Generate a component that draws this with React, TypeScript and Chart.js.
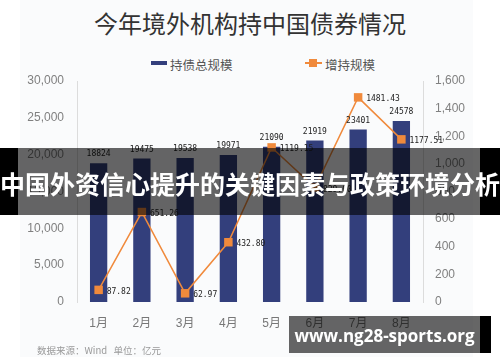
import React, { useEffect, useRef } from 'react';
import { Chart, registerables } from 'chart.js';

Chart.register(...registerables);

const chartTitle = '今年境外机构持中国债券情况';
const months = ['1月', '2月', '3月', '4月', '5月', '6月', '7月', '8月'];
const totalHoldings = [18824, 19475, 19538, 19971, 21090, 21919, 23401, 24578];
const increaseHoldings = [87.82, 651.26, 62.97, 432.8, 1119.15, 829.0, 1481.43, 1177.51];
const seriesNames = ['持债总规模', '增持规模'];
const sourceNote = '数据来源：Wind\u00a0\u00a0\u00a0单位：亿元';
const bannerText = '中国外资信心提升的关键因素与政策环境分析';
const watermarkText = 'www.ng28-sports.org';

const BAR_COLOR = '#333f7c';
const LINE_COLOR = '#f08a3c';
const FONT = '"Liberation Sans", Arial, "Noto Sans CJK SC", sans-serif';

const labelPlugin = {
  id: 'valueLabels',
  afterDatasetsDraw(chart: any) {
    const ctx = chart.ctx;
    ctx.save();
    ctx.font = '8px "DejaVu Sans Mono", monospace';
    ctx.fillStyle = '#222';
    const barMeta = chart.getDatasetMeta(1);
    barMeta.data.forEach((el: any, i: number) => {
      ctx.textAlign = 'center';
      ctx.textBaseline = 'middle';
      ctx.fillText(String(totalHoldings[i]), el.x, el.y - 9);
    });
    const lineMeta = chart.getDatasetMeta(0);
    lineMeta.data.forEach((el: any, i: number) => {
      ctx.textAlign = 'left';
      ctx.textBaseline = 'middle';
      ctx.fillText(increaseHoldings[i].toFixed(2), el.x + 8, el.y + 2);
    });
    ctx.restore();
  },
};

export default function App() {
  const canvasRef = useRef<HTMLCanvasElement | null>(null);

  useEffect(() => {
    document.body.style.margin = '0';
    const canvas = canvasRef.current;
    if (!canvas) return;
    const chart = new Chart(canvas, {
      type: 'bar',
      data: {
        labels: months,
        datasets: [
          {
            type: 'line',
            label: seriesNames[1],
            data: increaseHoldings,
            yAxisID: 'y1',
            borderColor: LINE_COLOR,
            backgroundColor: LINE_COLOR,
            borderWidth: 1.5,
            pointStyle: 'rect',
            pointRadius: 6,
            pointBorderWidth: 0,
            pointBackgroundColor: LINE_COLOR,
            tension: 0,
            order: 0,
          } as any,
          {
            type: 'bar',
            label: seriesNames[0],
            data: totalHoldings,
            yAxisID: 'y',
            backgroundColor: BAR_COLOR,
            barPercentage: 0.4,
            categoryPercentage: 1,
            order: 1,
          } as any,
        ],
      },
      options: {
        responsive: false,
        animation: false,
        devicePixelRatio: 1,
        layout: { padding: { top: 81, bottom: 30, left: 0, right: 0 } },
        plugins: {
          legend: { display: false },
          title: { display: false },
          tooltip: { enabled: false },
        },
        scales: {
          x: {
            grid: { display: false, drawTicks: false },
            border: { display: false },
            ticks: { color: '#777', font: { family: FONT, size: 12 }, padding: 14 },
            afterFit: (s: any) => { s.height = 30; },
          },
          y: {
            position: 'left',
            min: 0,
            max: 30000,
            grid: { display: false, drawTicks: false },
            border: { display: true, color: '#dcdcdc', width: 1 },
            ticks: { stepSize: 5000, color: '#808080', font: { family: FONT, size: 12 }, padding: 13 },
            afterFit: (s: any) => { s.width = 77; },
          },
          y1: {
            position: 'right',
            min: 0,
            max: 1600,
            grid: { display: false, drawTicks: false },
            border: { display: true, color: '#dcdcdc', width: 1 },
            ticks: { stepSize: 200, color: '#808080', font: { family: FONT, size: 12 }, padding: 12 },
            afterFit: (s: any) => { s.width = 77; },
          },
        },
      } as any,
      plugins: [labelPlugin],
    });
    return () => chart.destroy();
  }, []);

  return (
    <div style={{ position: 'fixed', left: 0, top: 0, width: 500, height: 362, background: '#fff', overflow: 'hidden' }}>
      <div style={{ position: 'absolute', left: 20, top: 0, width: 453, height: 357, background: '#fafbfc' }} />
      <div
        style={{
          position: 'absolute', left: 0, top: 8, width: 500, textAlign: 'center',
          fontFamily: '"Noto Sans CJK SC", sans-serif', fontSize: 24, lineHeight: '29px', color: '#333',
        }}
      >
        {chartTitle}
      </div>
      <div style={{ position: 'absolute', left: 151, top: 61, width: 16, height: 4, background: BAR_COLOR }} />
      <div
        style={{
          position: 'absolute', left: 170, top: 56, fontFamily: '"Noto Sans CJK SC", sans-serif',
          fontSize: 12.5, lineHeight: '18px', color: '#555',
        }}
      >
        {seriesNames[0]}
      </div>
      <div style={{ position: 'absolute', left: 305, top: 62, width: 17, height: 2, background: LINE_COLOR }} />
      <div style={{ position: 'absolute', left: 309, top: 59, width: 8, height: 8, background: LINE_COLOR }} />
      <div
        style={{
          position: 'absolute', left: 325, top: 56, fontFamily: '"Noto Sans CJK SC", sans-serif',
          fontSize: 12.5, lineHeight: '18px', color: '#555',
        }}
      >
        {seriesNames[1]}
      </div>
      <canvas ref={canvasRef} width={500} height={362} style={{ position: 'absolute', left: 0, top: 0, width: 500, height: 362 }} />
      <div
        style={{
          position: 'absolute', left: 37, top: 343, fontFamily: '"Noto Sans CJK SC", sans-serif',
          fontSize: 9.5, lineHeight: '14px', color: '#999', whiteSpace: 'nowrap',
        }}
      >
        {sourceNote}
      </div>
      <div style={{ position: 'absolute', left: 0, top: 148, width: 18, height: 67, background: '#000' }} />
      <div style={{ position: 'absolute', left: 18, top: 148, width: 462, height: 67, background: 'rgba(0,0,0,0.6)' }} />
      <div style={{ position: 'absolute', left: 480, top: 148, width: 20, height: 67, background: '#000' }} />
      <div
        style={{
          position: 'absolute', left: 0, top: 166, width: 500, textAlign: 'center', whiteSpace: 'nowrap',
          fontFamily: '"Noto Sans CJK SC", sans-serif', fontWeight: 700, fontSize: 25, lineHeight: '34px', color: '#fff',
        }}
      >
        {bannerText}
      </div>
      <div style={{ position: 'absolute', left: 289, top: 316, width: 191, height: 37, background: 'rgba(0,0,0,0.6)' }} />
      <div style={{ position: 'absolute', left: 480, top: 316, width: 11, height: 37, background: '#000' }} />
      <div
        style={{
          position: 'absolute', left: 289, top: 324, width: 191, textAlign: 'center', whiteSpace: 'nowrap',
          fontFamily: '"Open Sans", "Noto Sans", sans-serif', fontWeight: 700, fontSize: 17, lineHeight: '24px', color: '#fff',
        }}
      >
        {watermarkText}
      </div>
    </div>
  );
}
